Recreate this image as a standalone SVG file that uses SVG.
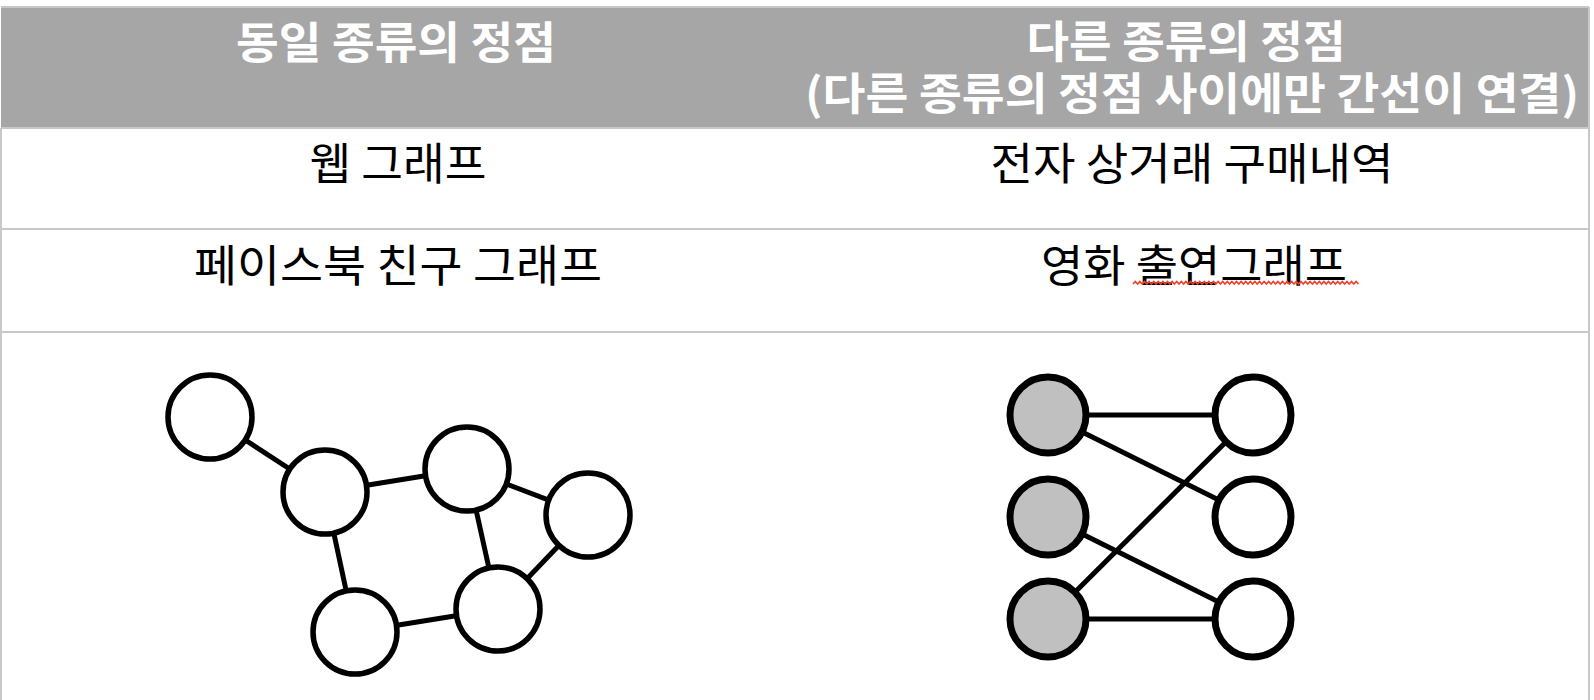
<svg xmlns="http://www.w3.org/2000/svg" width="1594" height="700" viewBox="0 0 1594 700">
  <style>
    .grid { stroke: #c8c8c8; stroke-width: 2; fill: none; }
    .hdr { font-family: "Noto Sans CJK KR", "Noto Sans", sans-serif; font-weight: bold; font-size: 44px; fill: #ffffff; text-anchor: middle; }
    .cell { font-family: "Noto Sans CJK KR", "Noto Sans", sans-serif; font-size: 44px; fill: #000000; text-anchor: middle; }
    .node { fill: #ffffff; stroke: #000000; stroke-width: 5.5; }
    .bnode { stroke: #000000; stroke-width: 7; }
    .edge { stroke: #000000; stroke-width: 5; fill: none; }
  </style>
  <rect x="0" y="0" width="1594" height="700" fill="#ffffff"/>
  <g id="table">
    <rect x="1" y="7" width="1588" height="121" fill="#a6a6a6"/>
    <line class="grid" x1="1" y1="7" x2="1589" y2="7"/>
    <line class="grid" x1="1" y1="128" x2="1589" y2="128"/>
    <line class="grid" x1="1" y1="229" x2="1589" y2="229"/>
    <line class="grid" x1="1" y1="332" x2="1589" y2="332"/>
    <line class="grid" x1="1" y1="128" x2="1" y2="700"/>
    <line class="grid" x1="1589" y1="7" x2="1589" y2="700"/>
  </g>
  <g id="headers">
    <text class="hdr" x="396" y="59" textLength="320" lengthAdjust="spacingAndGlyphs">동일 종류의 정점</text>
    <text class="hdr"><tspan x="1186" y="58" textLength="319" lengthAdjust="spacingAndGlyphs">다른 종류의 정점</tspan><tspan x="1192" y="110" textLength="774" lengthAdjust="spacingAndGlyphs">(다른 종류의 정점 사이에만 간선이 연결)</tspan></text>
  </g>
  <g id="cells">
    <text class="cell" x="398" y="180" textLength="177" lengthAdjust="spacingAndGlyphs">웹 그래프</text>
    <text class="cell" x="1192" y="180" textLength="403" lengthAdjust="spacingAndGlyphs">전자 상거래 구매내역</text>
    <text class="cell" x="398" y="282" textLength="408" lengthAdjust="spacingAndGlyphs">페이스북 친구 그래프</text>
    <text class="cell" x="1194" y="282" textLength="306" lengthAdjust="spacingAndGlyphs">영화 출연그래프</text>
    <path d="M1133 284 l2.3 -2.6 l2.3 2.6 l2.3 -2.6 l2.3 2.6 l2.3 -2.6 l2.3 2.6 l2.3 -2.6 l2.3 2.6 l2.3 -2.6 l2.3 2.6 l2.3 -2.6 l2.3 2.6 l2.3 -2.6 l2.3 2.6 l2.3 -2.6 l2.3 2.6 l2.3 -2.6 l2.3 2.6 l2.3 -2.6 l2.3 2.6 l2.3 -2.6 l2.3 2.6 l2.3 -2.6 l2.3 2.6 l2.3 -2.6 l2.3 2.6 l2.3 -2.6 l2.3 2.6 l2.3 -2.6 l2.3 2.6 l2.3 -2.6 l2.3 2.6 l2.3 -2.6 l2.3 2.6 l2.3 -2.6 l2.3 2.6 l2.3 -2.6 l2.3 2.6 l2.3 -2.6 l2.3 2.6 l2.3 -2.6 l2.3 2.6 l2.3 -2.6 l2.3 2.6 l2.3 -2.6 l2.3 2.6 l2.3 -2.6 l2.3 2.6 l2.3 -2.6 l2.3 2.6 l2.3 -2.6 l2.3 2.6 l2.3 -2.6 l2.3 2.6 l2.3 -2.6 l2.3 2.6 l2.3 -2.6 l2.3 2.6 l2.3 -2.6 l2.3 2.6 l2.3 -2.6 l2.3 2.6 l2.3 -2.6 l2.3 2.6 l2.3 -2.6 l2.3 2.6 l2.3 -2.6 l2.3 2.6 l2.3 -2.6 l2.3 2.6 l2.3 -2.6 l2.3 2.6 l2.3 -2.6 l2.3 2.6 l2.3 -2.6 l2.3 2.6 l2.3 -2.6 l2.3 2.6 l2.3 -2.6 l2.3 2.6 l2.3 -2.6 l2.3 2.6 l2.3 -2.6 l2.3 2.6 l2.3 -2.6 l2.3 2.6 l2.3 -2.6 l2.3 2.6 l2.3 -2.6 l2.3 2.6 l2.3 -2.6 l2.3 2.6 l2.3 -2.6 l2.3 2.6 l2.3 -2.6 l2.3 2.6 l2.3 -2.6 l2.3 2.6" fill="none" stroke="#f0402a" stroke-width="1.6"/>
  </g>
  <g id="connectors">
    <line class="edge" x1="210" y1="417" x2="325" y2="492"/>
    <line class="edge" x1="325" y1="492" x2="467" y2="469"/>
    <line class="edge" x1="467" y1="469" x2="588" y2="515"/>
    <line class="edge" x1="467" y1="469" x2="498" y2="609"/>
    <line class="edge" x1="588" y1="515" x2="498" y2="609"/>
    <line class="edge" x1="325" y1="492" x2="355" y2="632"/>
    <line class="edge" x1="355" y1="632" x2="498" y2="609"/>
    <line class="edge" x1="1048" y1="415" x2="1253" y2="415"/>
    <line class="edge" x1="1048" y1="415" x2="1253" y2="517"/>
    <line class="edge" x1="1048" y1="517" x2="1253" y2="619"/>
    <line class="edge" x1="1048" y1="619" x2="1253" y2="415"/>
    <line class="edge" x1="1048" y1="619" x2="1253" y2="619"/>
  </g>
  <g id="n1"><circle class="node" cx="210" cy="417" r="42"/></g>
  <g id="n2"><circle class="node" cx="325" cy="492" r="42"/></g>
  <g id="n3"><circle class="node" cx="467" cy="469" r="42"/></g>
  <g id="n4"><circle class="node" cx="588" cy="515" r="42"/></g>
  <g id="n5"><circle class="node" cx="355" cy="632" r="42"/></g>
  <g id="n6"><circle class="node" cx="498" cy="609" r="42"/></g>
  <g id="b1"><circle class="bnode" cx="1048" cy="415" r="38" fill="#c0c0c0"/></g>
  <g id="b2"><circle class="bnode" cx="1048" cy="517" r="38" fill="#c0c0c0"/></g>
  <g id="b3"><circle class="bnode" cx="1048" cy="619" r="38" fill="#c0c0c0"/></g>
  <g id="w1"><circle class="bnode" cx="1253" cy="415" r="38" fill="#ffffff"/></g>
  <g id="w2"><circle class="bnode" cx="1253" cy="517" r="38" fill="#ffffff"/></g>
  <g id="w3"><circle class="bnode" cx="1253" cy="619" r="38" fill="#ffffff"/></g>
</svg>
